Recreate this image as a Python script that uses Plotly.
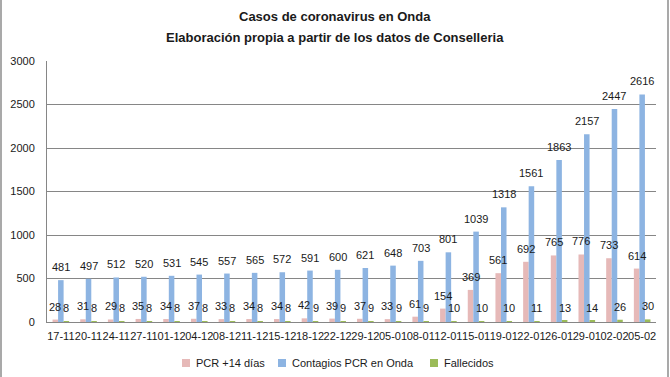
import plotly.graph_objects as go

fechas = ["17-11", "20-11", "24-11", "27-11", "01-12", "04-12", "08-12", "11-12",
          "15-12", "18-12", "22-12", "29-12", "05-01", "08-01", "12-01", "15-01",
          "19-01", "22-01", "26-01", "29-01", "02-02", "05-02"]
pcr_14 = [28, 31, 29, 35, 34, 37, 33, 34, 34, 42, 39, 37, 33, 61, 154, 369,
          561, 692, 765, 776, 733, 614]
contagios = [481, 497, 512, 520, 531, 545, 557, 565, 572, 591, 600, 621, 648,
             703, 801, 1039, 1318, 1561, 1863, 2157, 2447, 2616]
fallecidos = [8, 8, 8, 8, 8, 8, 8, 8, 8, 9, 9, 9, 9, 9, 10, 10, 10, 11, 13,
              14, 26, 30]
y_ticks = [0, 500, 1000, 1500, 2000, 2500, 3000]
series = [("PCR +14 días", pcr_14, "#E6B9B8"),
          ("Contagios PCR en Onda", contagios, "#8DB4E2"),
          ("Fallecidos", fallecidos, "#9BBB59")]

FONT = "Liberation Sans, Arial, sans-serif"
TXT = "#1a1a1a"
W, H = 670, 377
ML, MR, MT, MB = 47, 14, 61, 55
PW, PH = W - ML - MR, H - MT - MB
BW = 0.2  # bar width in category units
offsets = [-0.3, -0.1, 0.1]


def px_x(x):
    return (x - ML) / PW


def px_y(y):
    return (H - MB - y) / PH


fig = go.Figure()
annotations = []
for (name, vals, col), off in zip(series, offsets):
    fig.add_trace(go.Bar(
        x=fechas, y=vals, name=name, offset=off, width=BW,
        marker=dict(color=col, line=dict(width=0)), showlegend=False,
    ))
    # value labels, drawn above all bars
    for i, v in enumerate(vals):
        annotations.append(dict(
            x=i + off + BW / 2, y=v, xref="x", yref="y", text=str(v),
            showarrow=False, xanchor="center", yanchor="middle", yshift=13,
            font=dict(family=FONT, size=11, color=TXT),
        ))

for txt, ty in [("<b>Casos de coronavirus en Onda</b>", 17),
                ("<b>Elaboración propia a partir de los datos de Conselleria</b>", 38)]:
    annotations.append(dict(text=txt, x=px_x(335), y=px_y(ty), xref="paper",
                            yref="paper", showarrow=False, xanchor="center",
                            yanchor="middle",
                            font=dict(family=FONT, size=13, color=TXT)))

shapes = []
# legend
leg_x = [182, 278, 430]
for (name, vals, col), lx in zip(series, leg_x):
    shapes.append(dict(type="rect", xref="paper", yref="paper",
                       x0=px_x(lx), x1=px_x(lx + 8), y0=px_y(367), y1=px_y(359),
                       fillcolor=col, line=dict(width=0)))
    annotations.append(dict(text=name, x=px_x(lx + 12), y=px_y(363), xref="paper",
                            yref="paper", showarrow=False, xanchor="left",
                            yanchor="middle",
                            font=dict(family=FONT, size=11, color=TXT)))
# chart border (left and right)
for bx in (1, 668):
    shapes.append(dict(type="line", xref="paper", yref="paper",
                       x0=px_x(bx), x1=px_x(bx), y0=px_y(H), y1=px_y(0),
                       line=dict(color="#8c8c8c", width=1.5)))

fig.update_layout(
    width=W, height=H,
    margin=dict(l=ML, r=MR, t=MT, b=MB, autoexpand=False),
    paper_bgcolor="white", plot_bgcolor="white",
    barmode="overlay",
    font=dict(family=FONT, size=11, color=TXT),
    showlegend=False,
    annotations=annotations,
    shapes=shapes,
)

fig.update_xaxes(
    type="category", tickmode="array", tickvals=fechas, ticktext=fechas,
    tickangle=0, showgrid=False, showline=True, linecolor="#868686", linewidth=1,
    ticks="", ticklabelstandoff=4, tickfont=dict(family=FONT, size=11, color=TXT),
    automargin=False, range=[-0.5, len(fechas) - 0.5],
)
fig.update_yaxes(
    range=[0, 3000], tickmode="array", tickvals=y_ticks,
    showgrid=True, gridcolor="#868686", gridwidth=1, zeroline=False,
    showline=True, linecolor="#868686", linewidth=1, ticks="",
    ticklabelstandoff=9, tickfont=dict(family=FONT, size=11, color=TXT),
    automargin=False,
)

fig.write_html("out.html",
               config={"displayModeBar": False},
               post_script="document.body.style.margin='0';"
                           "document.body.style.overflow='hidden';")
